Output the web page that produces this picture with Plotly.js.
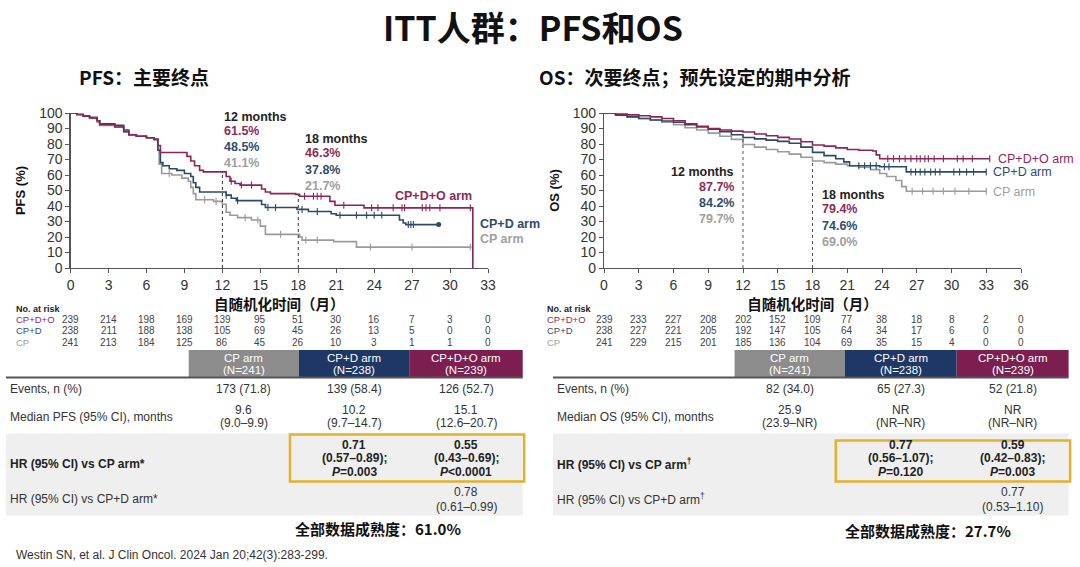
<!DOCTYPE html>
<html><head><meta charset="utf-8">
<script src="https://cdn.plot.ly/plotly-3.0.1.min.js"></script>
<style>html,body{margin:0;padding:0;background:#fff}</style>
</head><body><div id="chart" style="width:1080px;height:567px"></div>
<script>
// ---------------- DATA ----------------
// PFS Kaplan-Meier step points (months, %)
var pfsMonthsCPDO = [0,0.5,1,1.5,2.1,2.3,3.5,4.2,4.6,5.2,6,6.6,6.9,7.1,9.2,9.5,9.8,10.2,10.5,12.3,12.6,13,13.4,15.1,15.4,15.8,17.8,18.1,20.5,20.9,23.2,31.8,31.8];
var pfsCPDO       = [100,99,98,97,95,92.5,91,88,86,85,84,83,79,74.5,72,69,66,63,62,59,56,54.5,53.5,51,49,48,47.5,46.3,43,40.5,38.8,38.8,0];
var pfsMonthsCPD  = [0,0.5,1,1.5,2.1,2.3,3.5,4.2,4.6,5.2,6,6.6,6.9,7.1,7.3,7.8,8.4,9.0,9.5,9.7,9.9,10.2,12.3,12.7,13.1,15.1,15.4,17.9,18.8,20.6,21.0,26.0,26.3,26.5,29.1];
var pfsCPD        = [100,99,98,97,95,93,92,89,86,85,84,83,76,68,66,64,63,61,59,55,52,49,47,45,43.5,41,39,37.8,36.5,35,34,31,29,28,28];
var pfsMonthsCP   = [0,0.5,1,1.5,2.1,2.3,3.5,4.2,4.6,5.2,6,6.6,6.9,7.0,7.2,8,8.8,9.3,9.5,9.7,9.9,11.3,12.0,12.3,12.6,13.2,14.3,15.0,15.4,18.1,18.3,20.8,22.6,31.7];
var pfsCP         = [100,99,98,96.5,94,92,91,88,86,85,84,83,76,67,61,60,58,56,52,48,44,43,41.1,36,34,32.5,31,27,21.7,20,18,17,13.5,13.5];
// PFS censor times
var pfsCensCPDO = [12.7,13.5,14.3,18.5,19.2,19.5,19.8,21.6,23.8,24.3,25.5,26.2,26.4,27.8,28.1,28.4,29.2,31.6];
var pfsCensCPD  = [12.3,13.2,15.6,16.2,18.3,19.5,21.3,22.6,23.4,24.0,24.6,26.7,26.9,27.1];
var pfsCensCP   = [7.8,10.6,11.5,13.8,14.8,16.6,18.6,19.5,23.7,27.0,31.6];

// OS Kaplan-Meier step points (months, %)
var osMonthsCPDO = [0,1,2,3,4,5,6,7,8,9,10,11,12,13,14,15,16,17,18,19,20,21,22,23.2,23.5,23.8,33.3];
var osCPDO       = [100,99.3,98.8,98.2,97.5,96.5,95,93,91.5,90,89,88.3,87.7,86.5,85.3,84.3,83.2,81.5,79.4,78.6,77.5,76.5,76,75.5,73,70.5,70.5];
var osMonthsCPD  = [0,1,2,3,4,5,6,7,8,9,10,11,12,13,14,15,16,17,18,19,20,20.7,21.2,23.8,26.1,33.0];
var osCPD        = [100,98.5,97.5,96.5,95.5,94.8,94,92.5,91,89.5,88,86,84.2,83.3,82.5,81.7,80.5,78,74.6,72.5,70.5,68.5,66,65.3,62,62];
var osMonthsCP   = [0,1,2,3,4,5,6,7,8,9,10,11,12,13,14,15,16,17,18,19,20,21,22,23,23.8,24.4,25.2,25.7,26.1,33.0];
var osCP         = [100,98.7,97.5,96.5,95.5,94,92.5,90.5,89,87,85,83,79.7,78,76.5,75,73.5,71.5,69,68,67,66,65,63.5,61,59,56.5,52.5,49.5,49.5];
var osCensCPDO = [24.5,25,25.5,26,26.5,27,27.3,27.7,28,28.5,29.3,30.5,31,31.8,33.3];
var osCensCPD  = [22,22.5,23,23.5,24.2,24.6,26.5,26.9,27.3,27.7,28.2,28.6,29,30.2,30.7,31.3,31.9,33];
var osCensCP   = [26.6,27.5,28.4,29.3,30.3,31.5,33];

// Number at risk
var pfsRiskTicks = [0,3,6,9,12,15,18,21,24,27,30,33];
var pfsRiskCPDO = [239,214,198,169,139,95,51,30,16,7,3,0];
var pfsRiskCPD  = [238,211,188,138,105,69,45,26,13,5,0,0];
var pfsRiskCP   = [241,213,184,125,86,45,26,10,3,1,1,0];
var osRiskTicks = [0,3,6,9,12,15,18,21,24,27,30,33,36];
var osRiskCPDO = [239,233,227,208,202,152,109,77,38,18,8,2,0];
var osRiskCPD  = [238,227,221,205,192,147,105,64,34,17,6,0,0];
var osRiskCP   = [241,229,215,201,185,136,104,69,35,15,4,0,0];
var riskLabels = ['CP+D+O','CP+D','CP'];

// Landmark rates
var pfs12 = ['61.5%','48.5%','41.1%'];
var pfs18 = ['46.3%','37.8%','21.7%'];
var os12  = ['87.7%','84.2%','79.7%'];
var os18  = ['79.4%','74.6%','69.0%'];
var armLabels = ['CP+D+O arm','CP+D arm','CP arm'];

// Tables
var armHead = ['CP arm','CP+D arm','CP+D+O arm'];
var armN = ['(N=241)','(N=238)','(N=239)'];
var pfsEvents = ['173 (71.8)','139 (58.4)','126 (52.7)'];
var pfsMedian = ['9.6','10.2','15.1'];
var pfsMedianCI = ['(9.0–9.9)','(9.7–14.7)','(12.6–20.7)'];
var pfsHRvsCP = [['0.71','(0.57–0.89);','<i>P</i>=0.003'],['0.55','(0.43–0.69);','<i>P</i><0.0001']];
var pfsHRvsCPD = ['0.78','(0.61–0.99)'];
var osEvents = ['82 (34.0)','65 (27.3)','52 (21.8)'];
var osMedian = ['25.9','NR','NR'];
var osMedianCI = ['(23.9–NR)','(NR–NR)','(NR–NR)'];
var osHRvsCP = [['0.77','(0.56–1.07);','<i>P</i>=0.120'],['0.59','(0.42–0.83);','<i>P</i>=0.003']];
var osHRvsCPD = ['0.77','(0.53–1.10)'];
var pfsRowLabels = ['Events, n (%)','Median PFS (95% CI), months','<b>HR (95% CI) vs CP arm*</b>','HR (95% CI) vs CP+D arm*'];
var osRowLabels = ['Events, n (%)','Median OS (95% CI), months','<b>HR (95% CI) vs CP arm<sup>†</sup></b>','HR (95% CI) vs CP+D arm<sup>†</sup>'];

// ---------------- STYLE ----------------
var FONT = "Arial, 'Liberation Sans', 'Noto Sans CJK SC', sans-serif";
var CJK = "'Noto Sans CJK SC', Arial, sans-serif";
var MAG = '#8c2457', BLU = '#2c4a66', GRY = '#9a9a9a';
var TMAG = '#8e2a5c', TBLU = '#2f4d6b', TGRY = '#a0a0a0';
var W = 1080, H = 567;
function P(x){return x/W;}
function Q(y){return 1-y/H;}

function stepAt(xs, ys, t){
  var v = ys[0];
  for (var i=0;i<xs.length;i++){ if (xs[i] <= t) v = ys[i]; else break; }
  return v;
}
function km(xs, ys, color, xa, ya){
  return {type:'scatter', mode:'lines', x:xs, y:ys, xaxis:xa, yaxis:ya,
    line:{shape:'hv', color:color, width:1.6}, hoverinfo:'skip', showlegend:false};
}
function cens(ts, xs, ys, color, xa, ya){
  var yy = ts.map(function(t){ return stepAt(xs, ys, t); });
  return {type:'scatter', mode:'markers', x:ts, y:yy, xaxis:xa, yaxis:ya,
    marker:{symbol:'line-ns-open', size:5, color:color, line:{color:color, width:1.1}}, hoverinfo:'skip', showlegend:false};
}

var traces = [
  km(pfsMonthsCP, pfsCP, GRY, 'x', 'y'),
  km(pfsMonthsCPD, pfsCPD, BLU, 'x', 'y'),
  km(pfsMonthsCPDO, pfsCPDO, MAG, 'x', 'y'),
  cens(pfsCensCP, pfsMonthsCP, pfsCP, GRY, 'x', 'y'),
  cens(pfsCensCPD, pfsMonthsCPD, pfsCPD, BLU, 'x', 'y'),
  cens(pfsCensCPDO, pfsMonthsCPDO.slice(0,-1), pfsCPDO.slice(0,-1), MAG, 'x', 'y'),
  km(osMonthsCP, osCP, GRY, 'x2', 'y2'),
  km(osMonthsCPD, osCPD, BLU, 'x2', 'y2'),
  km(osMonthsCPDO, osCPDO, MAG, 'x2', 'y2'),
  cens(osCensCP, osMonthsCP, osCP, GRY, 'x2', 'y2'),
  cens(osCensCPD, osMonthsCPD, osCPD, BLU, 'x2', 'y2'),
  cens(osCensCPDO, osMonthsCPDO, osCPDO, MAG, 'x2', 'y2')
];
traces.push({type:'scatter', mode:'markers', x:[pfsMonthsCPD[pfsMonthsCPD.length-1]], y:[pfsCPD[pfsCPD.length-1]],
  xaxis:'x', yaxis:'y', marker:{size:5, color:BLU}, hoverinfo:'skip', showlegend:false});

var ann = [];
function txt(s, x, y, o){
  o = o || {};
  ann.push({text:s, x:o.xref ? x : P(x), y:Q(y), xref:o.xref||'paper', yref:'paper',
    xanchor:o.xa||'left', yanchor:'middle', showarrow:false,
    font:{family:o.family||FONT, size:o.size||12, color:o.color||'#333', weight:o.bold?'bold':'normal'}});
}

// Titles
txt('ITT人群：PFS和OS', 533, 26, {size:34, bold:true, color:'#111', xa:'center', family:CJK});
txt('PFS：主要终点', 77, 77, {size:19, bold:true, color:'#111', family:CJK});
txt('OS：次要终点；预先设定的期中分析', 537, 77, {size:19, bold:true, color:'#111', family:CJK});

// Landmark annotations PFS
txt('12 months', 222, 117, {size:12.5, bold:true, color:'#222'});
[TMAG,TBLU,TGRY].forEach(function(c,i){ txt(pfs12[i], 222, 131+i*16, {size:12.5, bold:true, color:c}); });
txt('18 months', 303, 139, {size:12.5, bold:true, color:'#222'});
[TMAG,TBLU,TGRY].forEach(function(c,i){ txt(pfs18[i], 303, 153+i*16.5, {size:12.5, bold:true, color:c}); });
txt(armLabels[0], 393, 196, {size:12.5, bold:true, color:TMAG});
txt(armLabels[1], 478, 224, {size:12.5, bold:true, color:TBLU});
txt(armLabels[2], 478, 239, {size:12.5, bold:true, color:TGRY});

// Landmark annotations OS
txt('12 months', 736, 172, {size:12.5, bold:true, color:'#222', xa:'right'});
[TMAG,TBLU,TGRY].forEach(function(c,i){ txt(os12[i], 736, 187+i*16.2, {size:12.5, bold:true, color:c, xa:'right'}); });
txt('18 months', 820, 195, {size:12.5, bold:true, color:'#222'});
[TMAG,TBLU,TGRY].forEach(function(c,i){ txt(os18[i], 820, 209+i*16.5, {size:12.5, bold:true, color:c}); });
txt(armLabels[0], 996, 159, {size:12.5, color:TMAG});
txt(armLabels[1], 991, 172, {size:12.5, color:TBLU});
txt(armLabels[2], 991, 192, {size:12.5, color:TGRY});

// Number at risk
var riskY = [319, 330.5, 342];
var riskCols = [TMAG, TBLU, TGRY];
txt('<b>No. at risk</b>', 14, 309, {size:9, color:'#222'});
txt('<b>No. at risk</b>', 545, 309, {size:9, color:'#222'});
riskLabels.forEach(function(l,i){
  txt(l, 14, riskY[i], {size:9.5, color:riskCols[i]});
  txt(l, 545, riskY[i], {size:9.5, color:riskCols[i]});
});
[pfsRiskCPDO,pfsRiskCPD,pfsRiskCP].forEach(function(arr,i){
  arr.forEach(function(v,j){ txt(String(v), pfsRiskTicks[j], riskY[i], {xref:'x', xa:'center', size:10, color:'#444'}); });
});
[osRiskCPDO,osRiskCPD,osRiskCP].forEach(function(arr,i){
  arr.forEach(function(v,j){ txt(String(v), osRiskTicks[j], riskY[i], {xref:'x2', xa:'center', size:10, color:'#444'}); });
});

// Tables
var shapes = [];
function rect(x0,y0,x1,y1,fill,line){
  shapes.push({type:'rect', xref:'paper', yref:'paper', x0:P(x0), x1:P(x1), y0:Q(y1), y1:Q(y0),
    fillcolor:fill||'rgba(0,0,0,0)', line:line||{width:0}, layer:'below'});
}
function table(L, cells, centers, rowLabels, events, med, medCI, hr, hrD, boxTop){
  rect(L, 433.5, cells[3], 515.5, '#efefef');
  var hc = ['#8c8c8c','#1e3765','#7c1f50'];
  for (var i=0;i<3;i++){
    rect(cells[i], 350, cells[i+1], 377, hc[i]);
    txt(armHead[i], centers[i], 357.5, {xa:'center', size:11.5, color:'#fff'});
    txt(armN[i], centers[i], 370, {xa:'center', size:11.5, color:'#fff'});
    txt(events[i], centers[i], 388.5, {xa:'center', size:12, color:'#333'});
    txt(med[i], centers[i], 409.5, {xa:'center', size:12, color:'#333'});
    txt(medCI[i], centers[i], 423, {xa:'center', size:12, color:'#333'});
  }
  shapes.push({type:'line', xref:'paper', yref:'paper', x0:P(L), x1:P(cells[3]), y0:Q(377.5), y1:Q(377.5), line:{color:'#555', width:2}});
  txt(rowLabels[0], L+1.5, 388.5, {size:12, color:'#333'});
  txt(rowLabels[1], L+1.5, 416.5, {size:12, color:'#333'});
  txt(rowLabels[2], L+1.5, 463.5, {size:12, color:'#222'});
  txt(rowLabels[3], L+1.5, 498.5, {size:12, color:'#333'});
  for (var k=0;k<2;k++){
    hr[k].forEach(function(s,m){ txt('<b>'+s+'</b>', centers[k+1], 445+m*13.3, {xa:'center', size:12, color:'#222'}); });
  }
  txt(hrD[0], centers[2], 491.5, {xa:'center', size:12, color:'#333'});
  txt(hrD[1], centers[2], 507, {xa:'center', size:12, color:'#333'});
  shapes.push({type:'rect', xref:'paper', yref:'paper', x0:P(cells[1]-9), x1:P(cells[3]+1.5), y0:Q(481.5), y1:Q(boxTop),
    fillcolor:'rgba(0,0,0,0)', line:{color:'#e3b12a', width:2.5}});
}
table(6, [188.7,299,409.8,522.7], [243.9,354.4,466.3], pfsRowLabels, pfsEvents, pfsMedian, pfsMedianCI, pfsHRvsCP, pfsHRvsCPD, 434.5);
table(553, [734.6,844.8,956.7,1068.6], [789.7,900.8,1012.7], osRowLabels, osEvents, osMedian, osMedianCI, osHRvsCP, osHRvsCPD, 440.5);

txt('全部数据成熟度：61.0%', 378, 528.5, {size:15, bold:true, color:'#111', xa:'center', family:CJK});
txt('全部数据成熟度：27.7%', 928, 530, {size:15, bold:true, color:'#111', xa:'center', family:CJK});
txt('Westin SN, et al. J Clin Oncol. 2024 Jan 20;42(3):283-299.', 14, 555, {size:12, color:'#333'});

// Dashed landmark lines (up to the top curve)
shapes.push({type:'line', xref:'x', yref:'y', x0:12, x1:12, y0:0, y1:stepAt(pfsMonthsCPDO,pfsCPDO,12), line:{color:'#333', width:1, dash:'dot'}});
shapes.push({type:'line', xref:'x', yref:'y', x0:18, x1:18, y0:0, y1:stepAt(pfsMonthsCPDO,pfsCPDO,18), line:{color:'#333', width:1, dash:'dot'}});
shapes.push({type:'line', xref:'x2', yref:'y2', x0:12, x1:12, y0:0, y1:stepAt(osMonthsCPD,osCPD,12), line:{color:'#555', width:1, dash:'dot'}});
shapes.push({type:'line', xref:'x2', yref:'y2', x0:18, x1:18, y0:0, y1:stepAt(osMonthsCP,osCP,18), line:{color:'#555', width:1, dash:'dot'}});

function xax(dom, rng, dt){
  return {domain:[P(dom[0]),P(dom[1])], range:rng, dtick:dt, tick0:0, showgrid:false, zeroline:false,
    showline:true, linecolor:'#555', linewidth:1.2, ticks:'outside', ticklen:4, tickcolor:'#555',
    tickfont:{family:FONT, size:14, color:'#333'}, fixedrange:true,
    title:{text:'<b>自随机化时间（月）</b>', font:{family:CJK, size:14.5, color:'#111'}, standoff:6}};
}
function yax(title){
  return {domain:[Q(268),Q(113)], range:[0,100], dtick:10, showgrid:false, zeroline:false,
    showline:true, linecolor:'#555', linewidth:1.2, ticks:'outside', ticklen:4, tickcolor:'#555',
    tickfont:{family:FONT, size:14, color:'#333'}, fixedrange:true,
    title:{text:'<b>'+title+'</b>', font:{family:FONT, size:13, color:'#111'}, standoff:10}};
}
var xa1 = xax([70.6,488],[0,33],3); xa1.anchor='y';
var xa2 = xax([604,1021],[0,36],3); xa2.anchor='y2';
var ya1 = yax('PFS (%)'); ya1.anchor='x';
var ya2 = yax('OS (%)'); ya2.anchor='x2';

var layout = {
  width:W, height:H, autosize:false, margin:{l:0,r:0,t:0,b:0},
  paper_bgcolor:'#fff', plot_bgcolor:'rgba(0,0,0,0)', showlegend:false,
  xaxis:xa1, yaxis:ya1, xaxis2:xa2, yaxis2:ya2,
  annotations:ann, shapes:shapes, font:{family:FONT}
};
Plotly.newPlot('chart', traces, layout, {staticPlot:true, displayModeBar:false});
</script></body></html>
